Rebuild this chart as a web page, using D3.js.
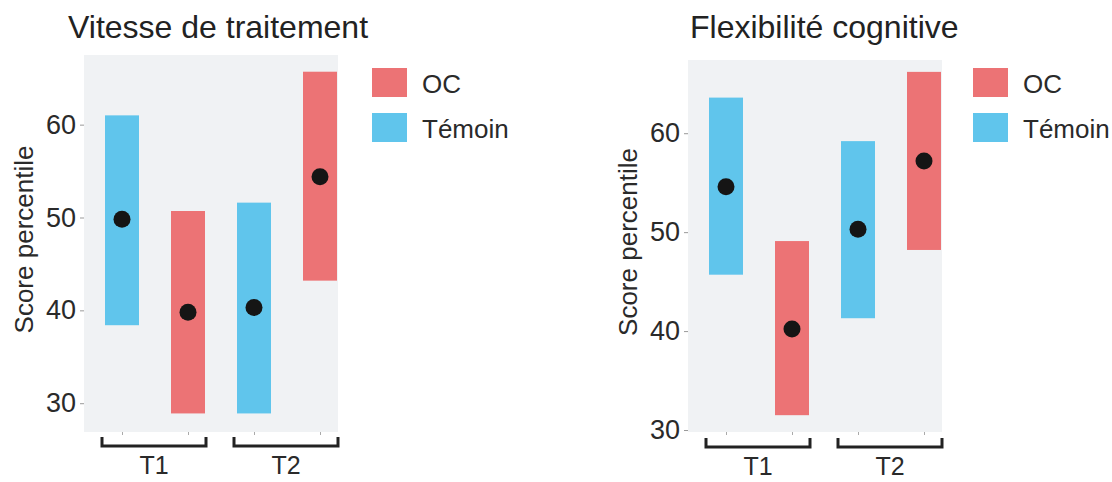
<!DOCTYPE html>
<html>
<head>
<meta charset="utf-8">
<script src="https://cdn.jsdelivr.net/npm/d3@7/dist/d3.min.js"></script>
<style>
  html, body { margin: 0; padding: 0; background: #ffffff; }
  svg { display: block; font-family: "Liberation Sans", Arial, sans-serif; }
</style>
</head>
<body>
<svg id="chart" width="1112" height="482"></svg>
<script>
// Groups, series and tick labels
const timepoints = ["T1", "T2"];
const groups = ["Témoin", "OC"];
const legendGroups = ["OC", "Témoin"];
const yTicks = [30, 40, 50, 60];

// Vitesse de traitement: mean and interval per timepoint
const vitesseTemoinMean  = [49.8, 40.3];
const vitesseTemoinLow   = [38.4, 28.9];
const vitesseTemoinHigh  = [61.0, 51.6];
const vitesseOCMean      = [39.8, 54.4];
const vitesseOCLow       = [28.9, 43.2];
const vitesseOCHigh      = [50.7, 65.7];

// Flexibilité cognitive: mean and interval per timepoint
const flexTemoinMean  = [54.6, 50.3];
const flexTemoinLow   = [45.7, 41.3];
const flexTemoinHigh  = [63.6, 59.2];
const flexOCMean      = [40.2, 57.2];
const flexOCLow       = [31.5, 48.2];
const flexOCHigh      = [49.1, 66.2];

const colors = { "OC": "#ec7375", "Témoin": "#60c5ec" };

function buildRows(tMean, tLow, tHigh, oMean, oLow, oHigh) {
  const rows = [];
  timepoints.forEach((t, i) => {
    rows.push({ time: t, group: "Témoin", mean: tMean[i], low: tLow[i], high: tHigh[i] });
    rows.push({ time: t, group: "OC", mean: oMean[i], low: oLow[i], high: oHigh[i] });
  });
  return rows;
}

const panels = [
  {
    title: "Vitesse de traitement",
    rows: buildRows(vitesseTemoinMean, vitesseTemoinLow, vitesseTemoinHigh,
                    vitesseOCMean, vitesseOCLow, vitesseOCHigh),
    left: 84, right: 338, top: 55, bottom: 432,
    yDomain: [26.9, 67.5],
    titleX: 68, bracketY: 446, legendX: 372
  },
  {
    title: "Flexibilité cognitive",
    rows: buildRows(flexTemoinMean, flexTemoinLow, flexTemoinHigh,
                    flexOCMean, flexOCLow, flexOCHigh),
    left: 688, right: 942, top: 60, bottom: 432,
    yDomain: [29.8, 67.4],
    titleX: 690, bracketY: 447, legendX: 973
  }
];

const svg = d3.select("#chart");
const barWidth = 34;

panels.forEach(p => {
  const w = p.right - p.left;
  const h = p.bottom - p.top;
  const g = svg.append("g").attr("transform", `translate(${p.left},${p.top})`);

  const keys = p.rows.map(r => r.time + "|" + r.group);
  const x = d3.scalePoint().domain(keys).range([38, w - 18]);
  const y = d3.scaleLinear().domain(p.yDomain).range([h, 0]);

  // panel background
  g.append("rect").attr("width", w).attr("height", h).attr("fill", "#f0f2f4");

  // interval bars
  g.selectAll("rect.bar").data(p.rows).join("rect")
    .attr("class", "bar")
    .attr("x", d => x(d.time + "|" + d.group) - barWidth / 2)
    .attr("width", barWidth)
    .attr("y", d => y(d.high))
    .attr("height", d => y(d.low) - y(d.high))
    .attr("fill", d => colors[d.group]);

  // means
  g.selectAll("circle.mean").data(p.rows).join("circle")
    .attr("class", "mean")
    .attr("cx", d => x(d.time + "|" + d.group))
    .attr("cy", d => y(d.mean))
    .attr("r", 8.5)
    .attr("fill", "#151515");

  // y axis
  const yAxis = d3.axisLeft(y).tickValues(yTicks).tickSize(4).tickPadding(4);
  const ya = g.append("g").call(yAxis);
  ya.select(".domain").remove();
  ya.selectAll(".tick line").attr("stroke", "#999").attr("stroke-width", 1);
  ya.selectAll(".tick text")
    .attr("font-size", 27).attr("fill", "#2a2a2a")
    .attr("font-family", "Liberation Sans, Arial, sans-serif");

  // small x ticks
  const xAxis = d3.axisBottom(x).tickSize(3).tickFormat("");
  const xa = g.append("g").attr("transform", `translate(0,${h})`).call(xAxis);
  xa.select(".domain").remove();
  xa.selectAll(".tick line").attr("stroke", "#aaa");

  // y axis title
  svg.append("text")
    .attr("transform", `translate(${p.left - 51},${p.top + h / 2 - 4}) rotate(-90)`)
    .attr("text-anchor", "middle")
    .attr("font-size", 26).attr("fill", "#2a2a2a")
    .text("Score percentile");

  // timepoint brackets
  timepoints.forEach(t => {
    const xs = groups.map(gr => x(t + "|" + gr));
    const x1 = d3.min(xs) - 20, x2 = d3.max(xs) + 18;
    const by = p.bracketY - p.top;
    g.append("path")
      .attr("d", `M${x1},${by - 9}V${by}H${x2}V${by - 9}`)
      .attr("fill", "none").attr("stroke", "#222").attr("stroke-width", 3);
    g.append("text")
      .attr("x", (x1 + x2) / 2).attr("y", by + 28)
      .attr("text-anchor", "middle")
      .attr("font-size", 25).attr("fill", "#2a2a2a")
      .attr("font-family", "Liberation Sans, Arial, sans-serif")
      .text(t);
  });

  // title
  svg.append("text")
    .attr("x", p.titleX).attr("y", 38)
    .attr("font-size", 32).attr("fill", "#222")
    .text(p.title);

  // legend
  legendGroups.forEach((lg, i) => {
    const ly = 68 + i * 45;
    svg.append("rect")
      .attr("x", p.legendX).attr("y", ly)
      .attr("width", 35).attr("height", 29)
      .attr("fill", colors[lg]);
    svg.append("text")
      .attr("x", p.legendX + 50).attr("y", ly + 16)
      .attr("dy", "0.36em")
      .attr("font-size", 26).attr("fill", "#2a2a2a")
      .text(lg);
  });
});
</script>
</body>
</html>
